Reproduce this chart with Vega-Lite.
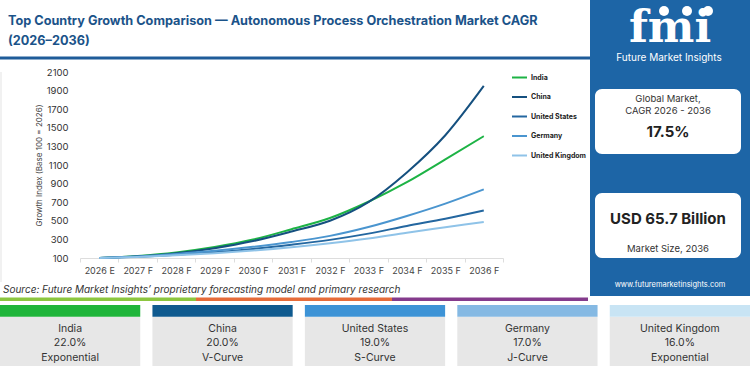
{
  "$schema": "https://vega.github.io/schema/vega-lite/v6.json",
  "padding": 0,
  "background": "white",
  "config": {"view": {"stroke": null}, "font": "Inter"},
  "spacing": 0,
  "resolve": {"scale": {"color": "independent", "fill": "independent"}, "legend": {"color": "independent", "fill": "independent"}},
  "vconcat": [
    {
      "spacing": 0,
      "resolve": {"scale": {"color": "independent"}, "legend": {"color": "independent"}},
      "hconcat": [
        {
          "spacing": 0,
          "resolve": {"scale": {"color": "independent"}, "legend": {"color": "independent"}},
          "vconcat": [
            {
              "width": 590,
              "height": 67,
              "data": {"values": [{"line1": "Top Country Growth Comparison — Autonomous Process Orchestration Market CAGR", "line2": "(2026–2036)"}]},
              "layer": [
                {
                  "mark": {"type": "text", "align": "left", "baseline": "middle", "fontSize": 12.7, "fontWeight": "bold", "color": "#1b5389"},
                  "encoding": {
                    "x": {"datum": 8, "scale": {"domain": [0, 590], "nice": false, "zero": false}, "axis": null},
                    "y": {"datum": 20.7, "scale": {"domain": [0, 67], "nice": false, "zero": false, "reverse": true}, "axis": null},
                    "text": {"field": "line1"}
                  }
                },
                {
                  "mark": {"type": "text", "align": "left", "baseline": "middle", "fontSize": 12.7, "fontWeight": "bold", "color": "#1b5389"},
                  "encoding": {
                    "x": {"datum": 8},
                    "y": {"datum": 40.7},
                    "text": {"field": "line2"}
                  }
                },
                {
                  "mark": {"type": "rect", "color": "#1f5c99"},
                  "encoding": {"x": {"datum": 0}, "x2": {"datum": 590}, "y": {"datum": 56.5}, "y2": {"datum": 59.5}}
                }
              ]
            },
            {
              "spacing": 0,
              "bounds": "flush",
              "resolve": {"scale": {"color": "independent"}, "legend": {"color": "independent"}},
              "hconcat": [
                {
                  "width": 80, "height": 186,
                  "data": {"values": [{"source": "Source: Future Market Insights’ proprietary forecasting model and primary research"}]},
                  "layer": [
                    {
                      "mark": {"type": "text", "align": "left", "baseline": "middle", "fontSize": 10, "fontStyle": "italic", "color": "#333"},
                      "encoding": {
                        "x": {"datum": 3, "scale": {"domain": [0, 80], "nice": false, "zero": false}, "axis": null},
                        "y": {"datum": 218, "scale": {"domain": [0, 186], "nice": false, "zero": false, "reverse": true}, "axis": null},
                        "text": {"field": "source"}
                      }
                    },
                    {"mark": {"type": "rect", "color": "#e3e3e3"}, "encoding": {"x": {"datum": 0.5}, "x2": {"datum": 1.5}, "y": {"datum": 0}, "y2": {"datum": 210}}},
                    {"mark": {"type": "rect", "color": "#8cc63f"}, "encoding": {"x": {"datum": 0}, "x2": {"datum": 196}, "y": {"datum": 225.5}, "y2": {"datum": 229}}},
                    {"mark": {"type": "rect", "color": "#e66c3a"}, "encoding": {"x": {"datum": 196}, "x2": {"datum": 392}, "y": {"datum": 225.5}, "y2": {"datum": 229}}},
                    {"mark": {"type": "rect", "color": "#843b8c"}, "encoding": {"x": {"datum": 392}, "x2": {"datum": 588}, "y": {"datum": 225.5}, "y2": {"datum": 229}}}
                  ]
                },
                {
                  "width": 423,
                  "height": 186,
                  "data": {"values": [
                    {"country": "India", "year": "2026 E", "index": 100},
                    {"country": "India", "year": "2027 F", "index": 122},
                    {"country": "India", "year": "2028 F", "index": 160},
                    {"country": "India", "year": "2029 F", "index": 218},
                    {"country": "India", "year": "2030 F", "index": 298},
                    {"country": "India", "year": "2031 F", "index": 410},
                    {"country": "India", "year": "2032 F", "index": 530},
                    {"country": "India", "year": "2033 F", "index": 705},
                    {"country": "India", "year": "2034 F", "index": 915},
                    {"country": "India", "year": "2035 F", "index": 1160},
                    {"country": "India", "year": "2036 F", "index": 1410},
                    {"country": "China", "year": "2026 E", "index": 100},
                    {"country": "China", "year": "2027 F", "index": 118},
                    {"country": "China", "year": "2028 F", "index": 152},
                    {"country": "China", "year": "2029 F", "index": 206},
                    {"country": "China", "year": "2030 F", "index": 282},
                    {"country": "China", "year": "2031 F", "index": 385},
                    {"country": "China", "year": "2032 F", "index": 500},
                    {"country": "China", "year": "2033 F", "index": 700},
                    {"country": "China", "year": "2034 F", "index": 1020},
                    {"country": "China", "year": "2035 F", "index": 1420},
                    {"country": "China", "year": "2036 F", "index": 1950},
                    {"country": "United States", "year": "2026 E", "index": 100},
                    {"country": "United States", "year": "2027 F", "index": 114},
                    {"country": "United States", "year": "2028 F", "index": 136},
                    {"country": "United States", "year": "2029 F", "index": 163},
                    {"country": "United States", "year": "2030 F", "index": 198},
                    {"country": "United States", "year": "2031 F", "index": 243},
                    {"country": "United States", "year": "2032 F", "index": 295},
                    {"country": "United States", "year": "2033 F", "index": 362},
                    {"country": "United States", "year": "2034 F", "index": 445},
                    {"country": "United States", "year": "2035 F", "index": 523},
                    {"country": "United States", "year": "2036 F", "index": 612},
                    {"country": "Germany", "year": "2026 E", "index": 100},
                    {"country": "Germany", "year": "2027 F", "index": 116},
                    {"country": "Germany", "year": "2028 F", "index": 143},
                    {"country": "Germany", "year": "2029 F", "index": 177},
                    {"country": "Germany", "year": "2030 F", "index": 220},
                    {"country": "Germany", "year": "2031 F", "index": 272},
                    {"country": "Germany", "year": "2032 F", "index": 338},
                    {"country": "Germany", "year": "2033 F", "index": 433},
                    {"country": "Germany", "year": "2034 F", "index": 552},
                    {"country": "Germany", "year": "2035 F", "index": 685},
                    {"country": "Germany", "year": "2036 F", "index": 838},
                    {"country": "United Kingdom", "year": "2026 E", "index": 100},
                    {"country": "United Kingdom", "year": "2027 F", "index": 112},
                    {"country": "United Kingdom", "year": "2028 F", "index": 130},
                    {"country": "United Kingdom", "year": "2029 F", "index": 152},
                    {"country": "United Kingdom", "year": "2030 F", "index": 180},
                    {"country": "United Kingdom", "year": "2031 F", "index": 215},
                    {"country": "United Kingdom", "year": "2032 F", "index": 258},
                    {"country": "United Kingdom", "year": "2033 F", "index": 309},
                    {"country": "United Kingdom", "year": "2034 F", "index": 372},
                    {"country": "United Kingdom", "year": "2035 F", "index": 430},
                    {"country": "United Kingdom", "year": "2036 F", "index": 488}
                  ]},
                  "mark": {"type": "line", "interpolate": "monotone", "strokeWidth": 2},
                  "encoding": {
                    "x": {
                      "field": "year", "type": "ordinal",
                      "scale": {"type": "band", "paddingInner": 0, "paddingOuter": 0},
                      "axis": {"title": null, "labelAngle": 0, "labelFontSize": 9, "labelColor": "#444", "domainColor": "#dddddd", "tickColor": "#dddddd", "tickSize": 4, "tickBand": "extent", "labelPadding": 4, "grid": false}
                    },
                    "y": {
                      "field": "index", "type": "quantitative",
                      "scale": {"domain": [100, 2100], "nice": false, "zero": false},
                      "axis": {"values": [100, 300, 500, 700, 900, 1100, 1300, 1500, 1700, 1900, 2100], "format": "d", "grid": false, "domain": false, "ticks": false, "labelPadding": 12, "labelFontSize": 9.5, "labelColor": "#333", "title": "Growth Index (Base 100 = 2026)", "titleFontSize": 8, "titleFontWeight": "normal", "titleColor": "#444", "titlePadding": 3}
                    },
                    "color": {
                      "field": "country", "type": "nominal",
                      "scale": {"domain": ["India", "China", "United States", "Germany", "United Kingdom"], "range": ["#1db345", "#15507f", "#2467a0", "#4a95cf", "#8fc3e8"]},
                      "legend": {"orient": "none", "legendX": 431, "legendY": -3, "title": null, "padding": 0, "symbolType": "stroke", "symbolSize": 225, "symbolStrokeWidth": 2, "labelFontSize": 7, "labelFontWeight": "bold", "labelColor": "#222", "rowPadding": 6.5, "labelOffset": 3}
                    }
                  }
                },
                {
                  "width": 87, "height": 186,
                  "data": {"values": [{}]},
                  "mark": {"type": "point", "opacity": 0},
                  "encoding": {}
                }
              ]
            }
          ]
        },
        {
          "width": 160,
          "height": 296,
          "view": {"fill": "#1d65a6", "stroke": null},
          "data": {"values": [{"logo": "fmi", "brand": "Future Market Insights", "l1": "Global Market,", "l2": "CAGR 2026 - 2036", "cagr": "17.5%", "size": "USD 65.7 Billion", "sizeLabel": "Market Size, 2036", "url": "www.futuremarketinsights.com"}]},
          "layer": [
            {
              "mark": {"type": "text", "align": "center", "baseline": "alphabetic", "fontSize": 44, "fontWeight": "bold", "font": "DejaVu Serif", "color": "white"},
              "encoding": {
                "x": {"datum": 80, "scale": {"domain": [0, 160], "nice": false, "zero": false}, "axis": null},
                "y": {"datum": 42, "scale": {"domain": [0, 296], "nice": false, "zero": false, "reverse": true}, "axis": null},
                "text": {"field": "logo"}
              }
            },
            {"mark": {"type": "point", "filled": true, "color": "white", "size": 100, "opacity": 1}, "encoding": {"x": {"datum": 74}, "y": {"datum": 11}}},
            {"mark": {"type": "point", "filled": true, "color": "white", "size": 100, "opacity": 1}, "encoding": {"x": {"datum": 97}, "y": {"datum": 11}}},
            {"mark": {"type": "point", "filled": true, "color": "white", "size": 100, "opacity": 1}, "encoding": {"x": {"datum": 118}, "y": {"datum": 11}}},
            {
              "mark": {"type": "text", "align": "center", "baseline": "middle", "fontSize": 10, "color": "white"},
              "encoding": {"x": {"datum": 79}, "y": {"datum": 58}, "text": {"field": "brand"}}
            },
            {"mark": {"type": "rect", "color": "white", "cornerRadius": 7}, "encoding": {"x": {"datum": 5}, "x2": {"datum": 151}, "y": {"datum": 89}, "y2": {"datum": 154}}},
            {"mark": {"type": "rect", "color": "white", "cornerRadius": 7}, "encoding": {"x": {"datum": 5}, "x2": {"datum": 151}, "y": {"datum": 193}, "y2": {"datum": 258}}},
            {"mark": {"type": "text", "align": "center", "baseline": "middle", "fontSize": 9.5, "color": "#333"}, "encoding": {"x": {"datum": 78}, "y": {"datum": 99}, "text": {"field": "l1"}}},
            {"mark": {"type": "text", "align": "center", "baseline": "middle", "fontSize": 9.5, "color": "#333"}, "encoding": {"x": {"datum": 78}, "y": {"datum": 111}, "text": {"field": "l2"}}},
            {"mark": {"type": "text", "align": "center", "baseline": "middle", "fontSize": 15, "fontWeight": "bold", "color": "#222"}, "encoding": {"x": {"datum": 78}, "y": {"datum": 132}, "text": {"field": "cagr"}}},
            {"mark": {"type": "text", "align": "center", "baseline": "middle", "fontSize": 15, "fontWeight": "bold", "color": "#222"}, "encoding": {"x": {"datum": 78}, "y": {"datum": 219}, "text": {"field": "size"}}},
            {"mark": {"type": "text", "align": "center", "baseline": "middle", "fontSize": 9.5, "color": "#333"}, "encoding": {"x": {"datum": 78}, "y": {"datum": 249}, "text": {"field": "sizeLabel"}}},
            {"mark": {"type": "text", "align": "center", "baseline": "middle", "fontSize": 7.5, "color": "white"}, "encoding": {"x": {"datum": 80}, "y": {"datum": 285}, "text": {"field": "url"}}}
          ]
        }
      ]
    },
    {
      "width": 750,
      "height": 71,
      "data": {"values": [
        {"country": "India", "cagr": "22.0%", "curve": "Exponential"},
        {"country": "China", "cagr": "20.0%", "curve": "V-Curve"},
        {"country": "United States", "cagr": "19.0%", "curve": "S-Curve"},
        {"country": "Germany", "cagr": "17.0%", "curve": "J-Curve"},
        {"country": "United Kingdom", "cagr": "16.0%", "curve": "Exponential"}
      ]},
      "layer": [
        {
          "mark": {"type": "rect", "color": "#e7e7e7"},
          "encoding": {
            "x": {"field": "country", "type": "nominal", "sort": null, "scale": {"paddingInner": 0.08, "paddingOuter": 0}, "axis": null},
            "y": {"datum": 15.7, "scale": {"domain": [0, 71], "nice": false, "zero": false, "reverse": true}, "axis": null},
            "y2": {"datum": 65}
          }
        },
        {
          "mark": {"type": "rect"},
          "encoding": {
            "x": {"field": "country", "type": "nominal", "sort": null},
            "y": {"datum": 4},
            "y2": {"datum": 15.7},
            "fill": {"field": "country", "type": "nominal", "scale": {"domain": ["India", "China", "United States", "Germany", "United Kingdom"], "range": ["#1fb53a", "#0f5a8f", "#3d93d6", "#85b9e3", "#c8e4f4"]}, "legend": null}
          }
        },
        {"mark": {"type": "text", "fontSize": 10.5, "color": "#333", "baseline": "middle"}, "encoding": {"x": {"field": "country", "type": "nominal", "sort": null}, "y": {"datum": 28}, "text": {"field": "country"}}},
        {"mark": {"type": "text", "fontSize": 10.5, "color": "#333", "baseline": "middle"}, "encoding": {"x": {"field": "country", "type": "nominal", "sort": null}, "y": {"datum": 42}, "text": {"field": "cagr"}}},
        {"mark": {"type": "text", "fontSize": 10.5, "color": "#333", "baseline": "middle"}, "encoding": {"x": {"field": "country", "type": "nominal", "sort": null}, "y": {"datum": 57}, "text": {"field": "curve"}}},
        {"mark": {"type": "rect", "color": "#dddddd"}, "encoding": {"y": {"datum": 68.5}, "y2": {"datum": 69.5}}}
      ]
    }
  ]
}
